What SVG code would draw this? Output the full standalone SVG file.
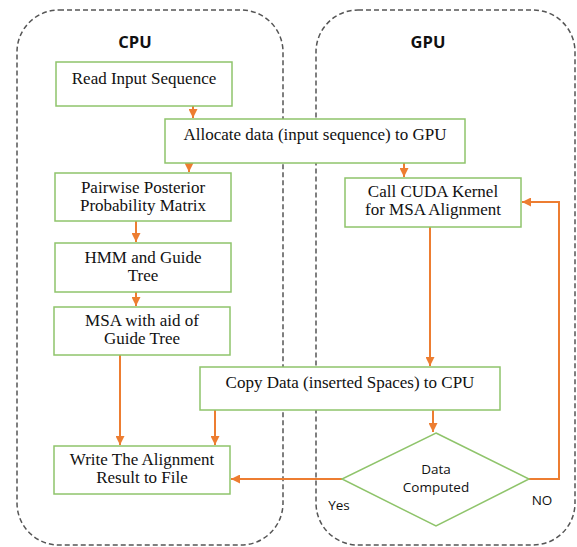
<svg xmlns="http://www.w3.org/2000/svg" width="577" height="547" viewBox="0 0 577 547">
<style>
.cont{fill:none;stroke:#555;stroke-width:1.5;stroke-dasharray:5,3}
.box{fill:#fff;stroke:#8fc46b;stroke-width:1.5}
.t{font-family:"Liberation Serif",serif;font-size:17px;fill:#111;text-anchor:middle}
.h{font-family:"Open Sans","Liberation Sans",sans-serif;font-size:16.5px;font-weight:bold;fill:#111;text-anchor:middle}
.s{font-family:"Open Sans","Liberation Sans",sans-serif;font-size:13.5px;fill:#111;text-anchor:middle}
.c{fill:none;stroke:#ed7d31;stroke-width:2}
</style>
<defs>
<marker id="ah" viewBox="0 0 10 10" refX="10" refY="5" markerWidth="4.5" markerHeight="4.5" orient="auto" markerUnits="strokeWidth">
<path d="M0,0 L10,5 L0,10 z" fill="#ed7d31"/>
</marker>
</defs>
<rect fill="#fff" width="577" height="547"/>
<g id="cpu-region">
<rect class="cont" x="17" y="10" width="266" height="535" rx="42" ry="42"/>
<text class="h" x="135" y="48">CPU</text>
</g>
<g id="gpu-region">
<rect class="cont" x="316" y="10" width="259" height="535" rx="42" ry="42"/>
<text class="h" x="428" y="48">GPU</text>
</g>
<g id="connectors">
<path class="c" d="M193,106 V118" marker-end="url(#ah)"/>
<path class="c" d="M189,163 V172" marker-end="url(#ah)"/>
<path class="c" d="M404,163 V177" marker-end="url(#ah)"/>
<path class="c" d="M136,221 V242" marker-end="url(#ah)"/>
<path class="c" d="M136,292 V306" marker-end="url(#ah)"/>
<path class="c" d="M120,355 V445" marker-end="url(#ah)"/>
<path class="c" d="M215,410 V445" marker-end="url(#ah)"/>
<path class="c" d="M430,227 V366" marker-end="url(#ah)"/>
<path class="c" d="M433,410 V432" marker-end="url(#ah)"/>
<path class="c" d="M342,479 H231" marker-end="url(#ah)"/>
<path class="c" d="M529,479 H559 V202 H522" marker-end="url(#ah)"/>
</g>
<g id="read">
<rect class="box" x="56" y="62" width="176" height="44"/>
<text class="t" x="144" y="84">Read Input Sequence</text>
</g>
<g id="allocate">
<rect class="box" x="165" y="119" width="300" height="44"/>
<text class="t" x="315" y="140">Allocate data (input sequence) to GPU</text>
</g>
<g id="pairwise">
<rect class="box" x="55" y="173" width="176" height="48"/>
<text class="t" x="143" y="193">Pairwise Posterior</text>
<text class="t" x="143" y="211">Probability Matrix</text>
</g>
<g id="hmm">
<rect class="box" x="55" y="243" width="176" height="49"/>
<text class="t" x="143" y="263">HMM and Guide</text>
<text class="t" x="143" y="281">Tree</text>
</g>
<g id="msa">
<rect class="box" x="54" y="307" width="176" height="48"/>
<text class="t" x="142" y="326">MSA with aid of</text>
<text class="t" x="142" y="344">Guide Tree</text>
</g>
<g id="write">
<rect class="box" x="54" y="446" width="176" height="48"/>
<text class="t" x="142" y="465">Write The Alignment</text>
<text class="t" x="142" y="483">Result to File</text>
</g>
<g id="cuda">
<rect class="box" x="345" y="178" width="176" height="49"/>
<text class="t" x="433" y="197">Call CUDA Kernel</text>
<text class="t" x="433" y="215">for MSA Alignment</text>
</g>
<g id="copy">
<rect class="box" x="200" y="367" width="300" height="43"/>
<text class="t" x="350" y="388">Copy Data (inserted Spaces) to CPU</text>
</g>
<g id="decision">
<polygon class="box" points="436,433 529,479 436,526 342,479"/>
<text class="s" x="436" y="474">Data</text>
<text class="s" x="436" y="492">Computed</text>
</g>
<text class="s" x="339" y="510">Yes</text>
<text class="s" x="542" y="505">NO</text>
</svg>
